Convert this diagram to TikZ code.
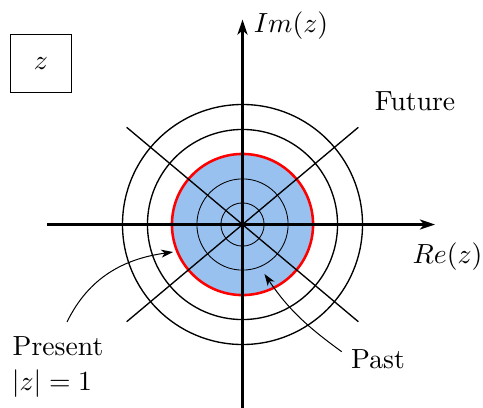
\documentclass[tikz,border=0pt]{standalone}
\usepackage{fontspec}
\usetikzlibrary{arrows.meta}

\definecolor{diskblue}{RGB}{152,193,240}
\definecolor{unitred}{RGB}{255,0,0}

\tikzset{
  lbl/.style={scale=1.64, inner sep=1.5pt},
  axis/.style={line width=1.2pt, -{Stealth[length=9pt,width=6pt,inset=2.5pt]}},
  ring/.style={line width=0.8pt},
  pointer/.style={line width=0.6pt, -{Stealth[length=7pt,width=4.8pt,inset=2pt]}},
}

\begin{document}
\begin{tikzpicture}
  \useasboundingbox (-5.052,-3.802) rectangle (5.010,4.677);

  % unit disc with the inner rings
  \fill[diskblue] (0,0) circle (1.47);
  \foreach \r in {0.45,0.95}
    \draw[line width=0.5pt] (0,0) circle (\r);
  \foreach \r in {1.98,2.5}
    \draw[ring] (0,0) circle (\r);
  \draw[unitred, line width=1.5pt] (0,0) circle (1.47);

  % diagonal rays
  \draw[ring] (140:3.15) -- (-40:3.15);
  \draw[ring] (40:3.15) -- (220:3.15);

  % axes
  \draw[axis] (-4.08,0) -- (4.01,0);
  \draw[axis] (0,-3.85) -- (0,4.27);

  % labels
  \node[lbl, draw, line width=0.6pt, minimum width=0.77cm, minimum height=0.74cm]
    (zbox) at (-4.202,3.35) {$z$};
  \node[lbl] (imz) at (1.01,4.135) {$Im(z)$};
  \node[lbl] (rez) at (4.271,-0.677) {$Re(z)$};
  \node[lbl] (future) at (3.594,2.573) {Future};
  \node[lbl] (past) at (2.823,-2.8) {Past};
  \node[lbl] (present) at (-3.844,-2.531) {Present};
  \node[lbl] (modz) at (-3.969,-3.323) {$|z|=1$};

  % pointers onto the disc
  \coordinate (presentfrom) at (-3.656,-2.031);
  \coordinate (presentto) at (-1.448,-0.573);
  \draw[pointer] (presentfrom) to[out=64,in=188] (presentto);
  \coordinate (pastfrom) at (2.067,-2.65);
  \coordinate (pastto) at (0.458,-1.031);
  \draw[pointer] (pastfrom) to[out=144,in=-56] (pastto);

\end{tikzpicture}
\end{document}
